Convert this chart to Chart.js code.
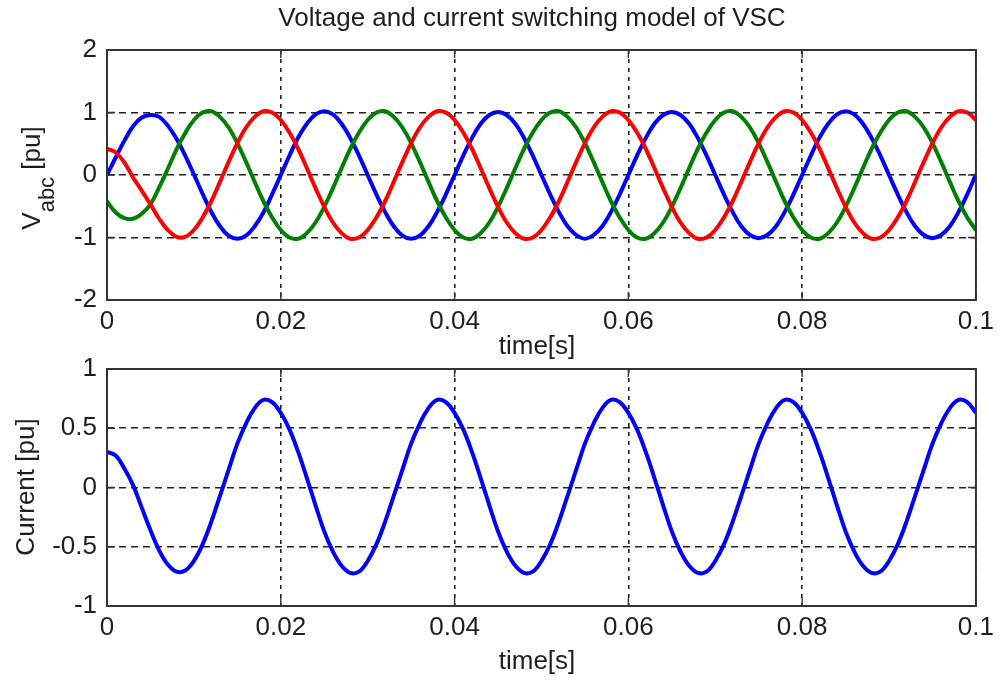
<!DOCTYPE html>
<html>
<head>
<meta charset="utf-8">
<title>Voltage and current switching model of VSC</title>
<script src="https://cdn.jsdelivr.net/npm/chart.js@4/dist/chart.umd.min.js"></script>
<style>
  html, body { margin: 0; padding: 0; background: #fff; }
  #wrap { position: relative; width: 1000px; height: 684px; overflow: hidden; background: #fff; }
  .pane { position: absolute; left: 0; width: 1000px; }
  #paneV { top: 0; height: 365px; }
  #paneI { top: 340px; height: 344px; }
</style>
</head>
<body>
<div id="wrap">
  <div class="pane" id="paneV"><canvas id="chartV"></canvas></div>
  <div class="pane" id="paneI"><canvas id="chartI"></canvas></div>
</div>
<script>
// Sample instants, in milliseconds (1 ms step over 0 .. 100 ms)
const TIME_MS = [
  0, 1, 2, 3, 4, 5, 6, 7, 8, 9,
  10, 11, 12, 13, 14, 15, 16, 17, 18, 19,
  20, 21, 22, 23, 24, 25, 26, 27, 28, 29,
  30, 31, 32, 33, 34, 35, 36, 37, 38, 39,
  40, 41, 42, 43, 44, 45, 46, 47, 48, 49,
  50, 51, 52, 53, 54, 55, 56, 57, 58, 59,
  60, 61, 62, 63, 64, 65, 66, 67, 68, 69,
  70, 71, 72, 73, 74, 75, 76, 77, 78, 79,
  80, 81, 82, 83, 84, 85, 86, 87, 88, 89,
  90, 91, 92, 93, 94, 95, 96, 97, 98, 99,
  100
];

// Phase voltages [pu]
const V_A = [ // blue
  0, 0.28, 0.55, 0.78, 0.92, 0.96, 0.93, 0.79, 0.58, 0.31,
  0.01, -0.30, -0.59, -0.82, -0.97, -1.02, -0.97, -0.82, -0.60, -0.31,
  0, 0.31, 0.60, 0.82, 0.97, 1.02, 0.97, 0.82, 0.59, 0.31,
  0, -0.31, -0.59, -0.82, -0.97, -1.02, -0.97, -0.82, -0.59, -0.31,
  0, 0.31, 0.59, 0.82, 0.96, 1.01, 0.96, 0.82, 0.59, 0.31,
  0, -0.31, -0.59, -0.82, -0.96, -1.02, -0.96, -0.82, -0.59, -0.31,
  0, 0.31, 0.59, 0.82, 0.96, 1.01, 0.96, 0.82, 0.59, 0.31,
  0, -0.31, -0.59, -0.82, -0.96, -1.01, -0.96, -0.82, -0.59, -0.31,
  0, 0.31, 0.60, 0.82, 0.97, 1.02, 0.97, 0.82, 0.59, 0.31,
  0, -0.31, -0.59, -0.82, -0.96, -1.01, -0.96, -0.82, -0.59, -0.31,
  0.01
];
const V_B = [ // green
  -0.42, -0.60, -0.69, -0.70, -0.62, -0.47, -0.20, 0.10, 0.41, 0.67,
  0.88, 1.00, 1.02, 0.93, 0.76, 0.51, 0.21, -0.11, -0.42, -0.68,
  -0.88, -1.00, -1.02, -0.93, -0.76, -0.51, -0.21, 0.11, 0.42, 0.68,
  0.88, 1.00, 1.02, 0.93, 0.76, 0.51, 0.21, -0.11, -0.42, -0.68,
  -0.88, -1.00, -1.02, -0.93, -0.76, -0.51, -0.21, 0.11, 0.42, 0.68,
  0.88, 1.00, 1.02, 0.93, 0.76, 0.51, 0.21, -0.11, -0.42, -0.68,
  -0.88, -1.00, -1.02, -0.93, -0.76, -0.51, -0.21, 0.11, 0.42, 0.68,
  0.88, 1.00, 1.02, 0.93, 0.76, 0.51, 0.21, -0.11, -0.42, -0.68,
  -0.88, -1.00, -1.02, -0.93, -0.76, -0.51, -0.21, 0.11, 0.42, 0.68,
  0.88, 1.00, 1.02, 0.93, 0.76, 0.51, 0.21, -0.11, -0.42, -0.68,
  -0.88
];
const V_C = [ // red
  0.42, 0.36, 0.20, -0.04, -0.25, -0.47, -0.70, -0.88, -0.99, -0.99,
  -0.88, -0.68, -0.42, -0.11, 0.21, 0.51, 0.76, 0.93, 1.02, 1.00,
  0.88, 0.68, 0.42, 0.11, -0.21, -0.51, -0.76, -0.93, -1.02, -1.00,
  -0.88, -0.68, -0.42, -0.11, 0.21, 0.51, 0.76, 0.93, 1.02, 1.00,
  0.88, 0.68, 0.42, 0.11, -0.21, -0.51, -0.76, -0.93, -1.02, -1.00,
  -0.88, -0.68, -0.42, -0.11, 0.21, 0.51, 0.76, 0.93, 1.02, 1.00,
  0.88, 0.68, 0.42, 0.11, -0.21, -0.51, -0.76, -0.93, -1.02, -1.00,
  -0.88, -0.68, -0.42, -0.11, 0.21, 0.51, 0.76, 0.93, 1.02, 1.00,
  0.88, 0.68, 0.42, 0.11, -0.21, -0.51, -0.76, -0.93, -1.02, -1.00,
  -0.88, -0.68, -0.42, -0.11, 0.21, 0.51, 0.76, 0.93, 1.02, 1.00,
  0.88
];

// Converter current [pu]
const CURRENT = [
  0.30, 0.27, 0.16, 0.02, -0.17, -0.36, -0.53, -0.65, -0.71, -0.70,
  -0.62, -0.48, -0.29, -0.07, 0.15, 0.37, 0.54, 0.67, 0.74, 0.72,
  0.63, 0.49, 0.30, 0.08, -0.15, -0.37, -0.54, -0.66, -0.72, -0.71,
  -0.62, -0.48, -0.29, -0.07, 0.15, 0.37, 0.54, 0.67, 0.74, 0.72,
  0.63, 0.49, 0.30, 0.08, -0.15, -0.37, -0.54, -0.66, -0.72, -0.71,
  -0.62, -0.48, -0.29, -0.07, 0.15, 0.37, 0.54, 0.67, 0.74, 0.72,
  0.63, 0.49, 0.30, 0.08, -0.15, -0.37, -0.54, -0.66, -0.72, -0.71,
  -0.62, -0.48, -0.29, -0.07, 0.15, 0.37, 0.54, 0.67, 0.74, 0.72,
  0.63, 0.49, 0.30, 0.08, -0.15, -0.37, -0.54, -0.66, -0.72, -0.71,
  -0.62, -0.48, -0.29, -0.07, 0.15, 0.37, 0.54, 0.67, 0.74, 0.72,
  0.63
];

// Axis ranges and tick spacing
const X_RANGE = [0, 0.1];
const X_STEP = 0.02;
const V_RANGE = [-2, 2];
const V_STEP = 1;
const I_RANGE = [-1, 1];
const I_STEP = 0.5;

const FONT = '"Liberation Sans", Arial, Helvetica, sans-serif';
const TEXT_COLOR = '#1e1e1e';
const FRAME_COLOR = '#333333';
const GRID_COLOR = '#222222';

// Text decorations for each panel, keyed by canvas id (canvas-local coordinates)
const PANEL_TEXT = {
  chartV: {
    title: 'Voltage and current switching model of VSC',
    titleX: 532, titleY: 19,
    xLabel: 'time[s]', xLabelX: 537, xLabelY: 347,
    yLabel: [
      { text: 'V', size: 26, shift: 0 },
      { text: 'abc', size: 22, shift: 14 },
      { text: ' [pu]', size: 26, shift: 0 }
    ],
    yLabelX: 40, yLabelCenter: 178
  },
  chartI: {
    title: null,
    xLabel: 'time[s]', xLabelX: 537, xLabelY: 322,
    yLabel: [
      { text: 'Current [pu]', size: 26, shift: 0 }
    ],
    yLabelX: 34, yLabelCenter: 147
  }
};

function toPoints(values) {
  return TIME_MS.map((ms, i) => ({ x: ms / 1000, y: values[i] }));
}

function tickText(v) {
  return String(Number(Number(v).toFixed(3)));
}

// Box around the plot area, inward tick marks, axis titles and the figure title
const framePlugin = {
  id: 'frame',
  afterDatasetsDraw(chart) {
    const { ctx, chartArea: a, scales } = chart;
    const tl = 8;
    ctx.save();
    ctx.setLineDash([]);
    ctx.strokeStyle = FRAME_COLOR;
    ctx.lineWidth = 1.4;
    ctx.beginPath();
    scales.x.ticks.forEach(t => {
      const px = scales.x.getPixelForValue(t.value);
      ctx.moveTo(px, a.bottom); ctx.lineTo(px, a.bottom - tl);
      ctx.moveTo(px, a.top); ctx.lineTo(px, a.top + tl);
    });
    scales.y.ticks.forEach(t => {
      const py = scales.y.getPixelForValue(t.value);
      ctx.moveTo(a.left, py); ctx.lineTo(a.left + tl, py);
      ctx.moveTo(a.right, py); ctx.lineTo(a.right - tl, py);
    });
    ctx.stroke();
    ctx.lineWidth = 2;
    ctx.strokeRect(a.left, a.top, a.right - a.left, a.bottom - a.top);
    ctx.restore();
  },
  afterDraw(chart) {
    const spec = PANEL_TEXT[chart.canvas.id];
    if (!spec) return;
    const ctx = chart.ctx;
    ctx.save();
    ctx.fillStyle = TEXT_COLOR;

    if (spec.title) {
      ctx.font = '26px ' + FONT;
      ctx.textAlign = 'center';
      ctx.textBaseline = 'middle';
      ctx.fillText(spec.title, spec.titleX, spec.titleY);
    }

    // horizontal axis title
    ctx.font = '26px ' + FONT;
    ctx.textAlign = 'center';
    ctx.textBaseline = 'middle';
    ctx.fillText(spec.xLabel, spec.xLabelX, spec.xLabelY);

    // vertical axis title, built from runs (main text and subscript)
    const widths = spec.yLabel.map(r => {
      ctx.font = r.size + 'px ' + FONT;
      return ctx.measureText(r.text).width;
    });
    const total = widths.reduce((s, w) => s + w, 0);
    ctx.translate(spec.yLabelX, spec.yLabelCenter + total / 2);
    ctx.rotate(-Math.PI / 2);
    ctx.textAlign = 'left';
    ctx.textBaseline = 'alphabetic';
    let cx = 0;
    spec.yLabel.forEach((r, i) => {
      ctx.font = r.size + 'px ' + FONT;
      ctx.fillText(r.text, cx, r.shift);
      cx += widths[i];
    });
    ctx.restore();
  }
};

function scaleOptions(range, step, fitSize, dash, isX) {
  return {
    type: 'linear',
    min: range[0],
    max: range[1],
    afterFit(scale) {
      if (isX) { scale.height = fitSize; } else { scale.width = fitSize; }
    },
    ticks: {
      stepSize: step,
      autoSkip: false,
      maxRotation: 0,
      padding: isX ? 6 : 10,
      color: TEXT_COLOR,
      font: { family: FONT, size: 26 },
      callback: v => tickText(v)
    },
    grid: {
      color: GRID_COLOR,
      lineWidth: 1.6,
      drawTicks: false,
      tickLength: 0
    },
    border: { display: false, dash: dash }
  };
}

function lineSet(label, values, color, order) {
  return {
    label: label,
    data: toPoints(values),
    borderColor: color,
    backgroundColor: color,
    borderWidth: 4,
    pointRadius: 0,
    pointHoverRadius: 0,
    tension: 0.4,
    fill: false,
    order: order
  };
}

const commonOptions = {
  responsive: true,
  maintainAspectRatio: false,
  animation: false,
  devicePixelRatio: 1,
  events: []
};

new Chart(document.getElementById('chartV'), {
  type: 'line',
  data: {
    datasets: [
      lineSet('Va', V_A, '#0000ff', 3),
      lineSet('Vb', V_B, '#007f00', 2),
      lineSet('Vc', V_C, '#ff0000', 1)
    ]
  },
  options: Object.assign({}, commonOptions, {
    layout: { padding: { top: 50, right: 21, left: 0, bottom: 0 } },
    scales: {
      x: scaleOptions(X_RANGE, X_STEP, 65, [4, 5], true),
      y: scaleOptions(V_RANGE, V_STEP, 107, [7, 5], false)
    },
    plugins: {
      legend: { display: false },
      tooltip: { enabled: false }
    }
  }),
  plugins: [framePlugin]
});

new Chart(document.getElementById('chartI'), {
  type: 'line',
  data: {
    datasets: [
      lineSet('I', CURRENT, '#0000ff', 1)
    ]
  },
  options: Object.assign({}, commonOptions, {
    layout: { padding: { top: 29, right: 20, left: 0, bottom: 0 } },
    scales: {
      x: scaleOptions(X_RANGE, X_STEP, 78, [4, 5], true),
      y: scaleOptions(I_RANGE, I_STEP, 107, [7, 5], false)
    },
    plugins: {
      legend: { display: false },
      tooltip: { enabled: false }
    }
  }),
  plugins: [framePlugin]
});
</script>
</body>
</html>
